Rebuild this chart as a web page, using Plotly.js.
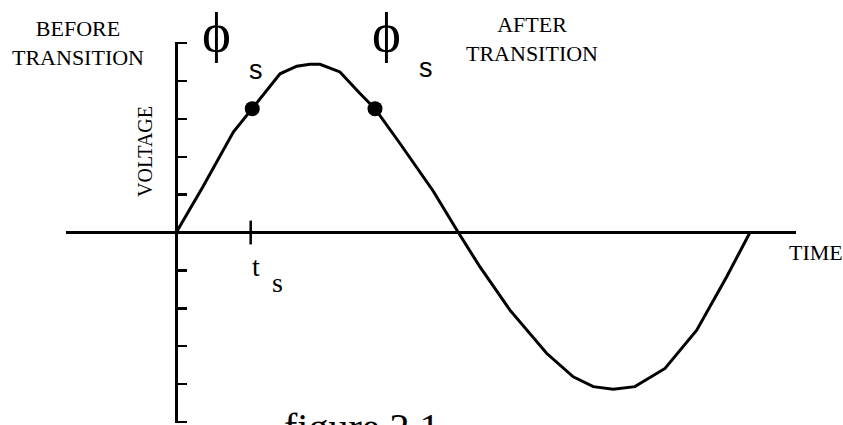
<!DOCTYPE html>
<html>
<head>
<meta charset="utf-8">
<script src="https://cdn.plot.ly/plotly-3.0.1.min.js"></script>
<style>html,body{margin:0;padding:0;background:#fff}#chart{width:843px;height:425px}</style>
</head>
<body>
<div id="chart"></div>
<script>
// Waveform (x: phase in degrees, y: voltage in tick units)
const waveX = [0, 16.9, 35.8, 47.7, 65.1, 75.6, 83.9, 90.2, 102.7, 115.3, 124.7, 140.4, 161.3, 177.0,
               190.6, 209.4, 232.4, 249.1, 261.7, 274.2, 287.8, 306.7, 326.6, 345.4, 360];
const waveY = [0, 1.22, 2.65, 3.27, 4.19, 4.39, 4.44, 4.44, 4.24, 3.67, 3.27, 2.35, 1.09, 0,
               -0.91, -2.05, -3.19, -3.81, -4.07, -4.14, -4.07, -3.59, -2.58, -1.17, 0];
// Switching points (phi_s before / after transition)
const dotX = [47.7, 124.7];
const dotY = [3.27, 3.27];
// t_s tick on the time axis
const tsX = [46.7];
const tsY = [0];
// voltage axis ticks
const yTickVals = [-5, -4, -3, -2, -1, 1, 2, 3, 4, 5];

const W = 843, H = 425, L = 66, R = 47, T = 42, B = 2;
const PW = W - L - R, PH = H - T - B;
const px = x => (x - L) / PW;
const py = y => (H - B - y) / PH;

const serif = 'Liberation Serif, Times New Roman, serif';
const sans = 'Liberation Sans, Arial, sans-serif';

const traces = [
  {x: waveX, y: waveY, mode: 'lines', line: {color: '#000', width: 3}, hoverinfo: 'skip'},
  {x: dotX, y: dotY, mode: 'markers', marker: {color: '#000', size: 15}, hoverinfo: 'skip'},
  {x: tsX, y: tsY, mode: 'markers', marker: {symbol: 'line-ns', size: 17, line: {color: '#000', width: 2.5}}, hoverinfo: 'skip'}
];

function ann(text, x, y, size, family, extra) {
  return Object.assign({text: text, x: px(x), y: py(y), xref: 'paper', yref: 'paper',
    showarrow: false, xanchor: 'center', yanchor: 'middle',
    font: {family: family, size: size, color: '#000'}}, extra || {});
}

const layout = {
  width: W, height: H,
  margin: {l: L, r: R, t: T, b: B, pad: 0},
  paper_bgcolor: '#fff', plot_bgcolor: '#fff',
  showlegend: false,
  xaxis: {range: [-69.2, 388.9], showgrid: false, zeroline: false, showline: false,
          showticklabels: false, ticks: ''},
  yaxis: {range: [-5.03, 5.03], showgrid: false, zeroline: true, zerolinecolor: '#000', zerolinewidth: 3,
          anchor: 'free', position: (176.3 - L) / PW, showline: true, linecolor: '#000', linewidth: 3,
          ticks: 'inside', tickvals: yTickVals, ticklen: 9, tickwidth: 2.5, tickcolor: '#000',
          showticklabels: false},
  annotations: [
    ann('BEFORE<br>TRANSITION', 78, 43, 22, serif),
    ann('AFTER<br>TRANSITION', 532, 39, 22, serif),
    ann('TIME', 816, 252, 22, serif),
    ann('VOLTAGE', 145, 152, 20, serif, {textangle: -90}),
    ann('\u03D5', 216, 0.5, 55, serif, {yanchor: 'top'}),
    ann('\u03D5', 386, 0.5, 55, serif, {yanchor: 'top'}),
    ann('s', 256, 69.5, 27, sans),
    ann('s', 426, 68.5, 27, sans),
    ann('t', 256, 266.6, 28, serif),
    ann('s', 277, 282.3, 28, serif),
    ann('figure 2.1', 361.5, 428, 40, serif)
  ]
};

Plotly.newPlot('chart', traces, layout, {staticPlot: true, displayModeBar: false});
</script>
</body>
</html>
